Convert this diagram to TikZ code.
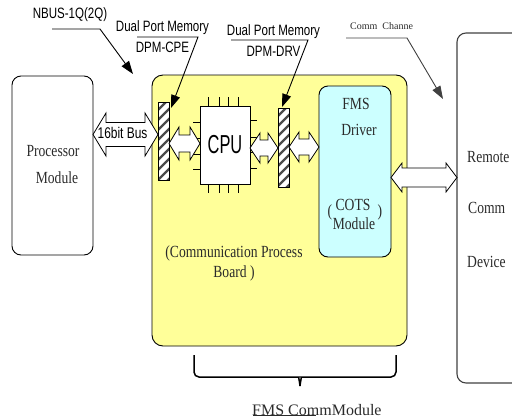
\documentclass[tikz,border=0pt]{standalone}
\usepackage{fontspec}
\setmainfont{Liberation Serif}
\newfontfamily\lblsans[FakeStretch=0.77]{Liberation Sans}
\newfontfamily\cpusans[FakeStretch=0.63]{Liberation Sans}
\newfontfamily\narrowserif[FakeStretch=0.8]{Liberation Serif}
\usetikzlibrary{arrows.meta,calc}

\definecolor{boardyellow}{HTML}{FFFF99}
\definecolor{fmscyan}{HTML}{CCFFFF}
\definecolor{ink}{HTML}{2A2A2A}
\definecolor{stripe}{HTML}{4A4A4A}

% horizontal block double arrow between two anchors
% #1 left anchor, #2 right anchor, #3 centre y, #4 half head, #5 half shaft, #6 head length
\newcommand{\dblarrow}[6]{%
  \draw[blockarrow] let \p1=(#1), \p2=(#2) in
    (\x1,-#3pt) -- (\x1+#6pt,-#3pt+#4pt) -- (\x1+#6pt,-#3pt+#5pt)
    -- (\x2-#6pt,-#3pt+#5pt) -- (\x2-#6pt,-#3pt+#4pt) -- (\x2,-#3pt)
    -- (\x2-#6pt,-#3pt-#4pt) -- (\x2-#6pt,-#3pt-#5pt)
    -- (\x1+#6pt,-#3pt-#5pt) -- (\x1+#6pt,-#3pt-#4pt) -- cycle;}

\begin{document}
\begin{tikzpicture}[x=1pt,y=-1pt,
  box/.style={draw=black, line width=0.9pt, rounded corners=9pt,
    inner sep=0pt, outer sep=0pt},
  hatchbar/.style={draw=black, line width=0.8pt, fill=white, inner sep=0pt,
    outer sep=0pt, minimum width=11pt,
    path picture={\foreach \k in {-10,0,...,100}
      \draw[stripe, line width=2.4pt]
        ($(path picture bounding box.north west)+(-2,\k)$) -- ++(18,-18);}},
  blockarrow/.style={draw=black, line width=0.8pt, fill=white},
  pin/.style={draw=black, line width=0.7pt},
  leader/.style={draw=black, line width=0.9pt,
    -{Triangle[length=13pt,width=9pt]}},
  serif/.style={font=\narrowserif\fontsize{17}{20}\selectfont,
    text=ink, inner sep=0pt},
  sanslbl/.style={font=\lblsans\fontsize{15}{17}\selectfont, inner sep=0pt},
  brace/.style={draw=black, line width=1.5pt, rounded corners=5pt}]

\useasboundingbox (0,0) rectangle (512,418);
\clip (0,0) rectangle (512,418);

% main blocks
\node[box, minimum width=81pt, minimum height=179pt] (proc) at (52.5,165.5) {};
\node[box, fill=boardyellow, minimum width=255pt, minimum height=271pt,
  rounded corners=11pt] (board) at (279.5,210.5) {};
\node[box, draw=black!75, line width=1.1pt, minimum width=90pt,
  minimum height=350pt] (remote) at (502,208) {};
\node[box, fill=fmscyan, minimum width=72pt, minimum height=171pt] (fms)
  at (355,171.5) {};

% CPU chip with its pins
\node[draw=black, line width=0.9pt, fill=white, minimum width=50pt,
  minimum height=78pt, inner sep=0pt, outer sep=0pt,
  font=\cpusans\fontsize{26}{28}\selectfont] (cpu) at (225,145) {CPU};
\foreach \x in {208,219,228,238} {
  \draw[pin] (\x,97) -- (\x,106);
  \draw[pin] (\x,184) -- (\x,193);
}
\foreach \y in {122,138,154,169} \draw[pin] (193,\y) -- (200,\y);
\foreach \y in {120,137,152,168} \draw[pin] (250,\y) -- (257,\y);

% dual port memories
\node[hatchbar, minimum height=78pt] (cpe) at (163.5,141) {};
\node[hatchbar, minimum height=79pt] (drv) at (283.5,147.5) {};

% data paths
\dblarrow{proc.east}{cpe.west}{134.5}{21.5}{12}{13}
\node[font=\lblsans\fontsize{15.5}{17}\selectfont, inner sep=0pt] (bus)
  at (122.5,133) {16bit Bus};
\dblarrow{cpe.east}{cpu.west}{143.5}{16.5}{8.5}{10}
\dblarrow{cpu.east}{drv.west}{148}{15}{8}{10}
\dblarrow{drv.east}{fms.west}{147}{15}{8}{10}
\dblarrow{fms.east}{remote.west}{177.5}{14.5}{9.5}{11}

% block texts
\node[serif] (proct) at (53,151) {Processor};
\node[serif] (procm) at (57,178) {Module};
\node[serif] (fmst) at (356,104) {FMS};
\node[serif] (fmsd) at (359,130) {Driver};
\node[serif] (cots) at (353,205) {COTS};
\node[serif] (cotsm) at (354,224) {Module};
\node[serif] (lpar) at (330,212) {(};
\node[serif] (rpar) at (380,212) {)};
\node[serif, align=center] (boardt) at (234,263.5)
  {(Communication Process\\[0pt]Board )};
\node[serif, anchor=west] (rem1) at (467,157) {Remote};
\node[serif, anchor=west] (rem2) at (468,208) {Comm};
\node[serif, anchor=west] (rem3) at (467,262) {Device};

% callout labels
\node[sanslbl] (nbus) at (70,15) {NBUS-1Q(2Q)};
\node[sanslbl] (dpm1) at (162.5,28) {Dual Port Memory};
\node[sanslbl] (dpm1b) at (162.5,47) {DPM-CPE};
\node[sanslbl] (dpm2) at (273.5,32) {Dual Port Memory};
\node[sanslbl] (dpm2b) at (273.5,51) {DPM-DRV};
\node[font=\fontsize{10}{12}\selectfont, text=ink, inner sep=0pt,
  anchor=west] (chan) at (350,26) {Comm\ \ Channe};

\coordinate (nbustip) at (133,74);
\coordinate (cpetip) at (171,108);
\coordinate (drvtip) at (282,107);
\coordinate (chantip) at (443,99);

\draw[leader] (52,29) -- (100,29) -- (nbustip);
\draw[leader] (137,37) -- (198,37) -- (cpetip);
\draw[leader] (231,40) -- (308,40) -- (drvtip);
\draw[leader, draw=black!75] (346,38) -- (407,38) -- (chantip);

% module brace and caption
\draw[brace] (194,355) -- (194,377) -- (294,377) to[out=0,in=95] (300,386);
\draw[brace] (396,355) -- (396,377) -- (306,377) to[out=180,in=85] (300,386);
\node[font=\fontsize{16}{19}\selectfont, text=ink, inner sep=0pt,
  anchor=west] (fcm) at (252,410) {FMS CommModule};
\draw[ink, line width=0.8pt] (253,415.5) -- (316,415.5);
\end{tikzpicture}
\end{document}
